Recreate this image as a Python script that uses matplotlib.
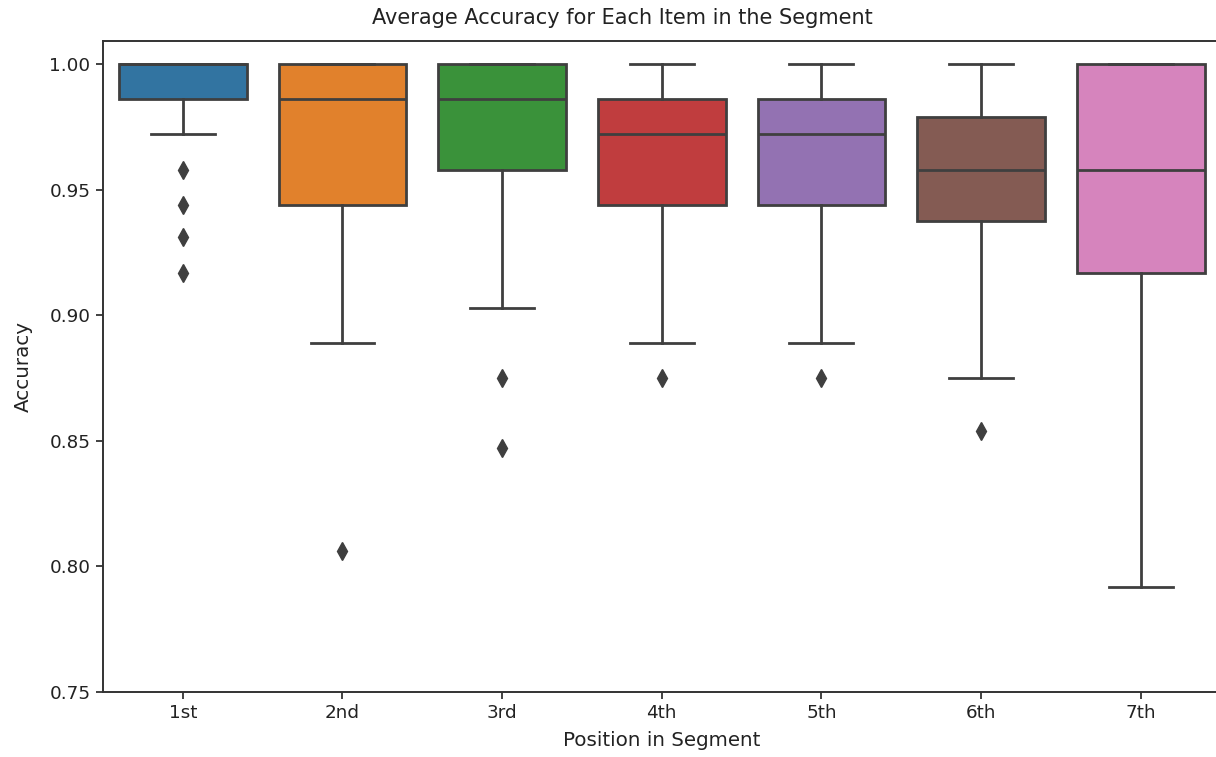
import numpy as np
import matplotlib.pyplot as plt

positions = ['1st', '2nd', '3rd', '4th', '5th', '6th', '7th']
q1 = [0.986, 0.944, 0.958, 0.944, 0.944, 0.9375, 0.917]
med = [1.000, 0.986, 0.986, 0.972, 0.972, 0.958, 0.958]
q3 = [1.000, 1.000, 1.000, 0.986, 0.986, 0.979, 1.000]
whislo = [0.972, 0.889, 0.903, 0.889, 0.889, 0.875, 0.792]
whishi = [1.000, 1.000, 1.000, 1.000, 1.000, 1.000, 1.000]
fliers = [
    [0.958, 0.944, 0.931, 0.917],
    [0.806],
    [0.875, 0.847],
    [0.875],
    [0.875],
    [0.854],
    [],
]
colors = ['#3274A1', '#E1812C', '#3A923A', '#C03D3E', '#9372B2', '#845B53', '#D684BD']
gray = '#3f3f3f'

stats = []
for i in range(len(positions)):
    stats.append({'label': positions[i], 'q1': q1[i], 'med': med[i], 'q3': q3[i],
                  'whislo': whislo[i], 'whishi': whishi[i], 'fliers': fliers[i]})

W, H = 1216, 757
fig = plt.figure(figsize=(W / 100, H / 100), dpi=100)
# the original figure was a little wider and cropped on the right
ax_left, ax_right = 103, 1220.5
ax = fig.add_axes([ax_left / W, 1 - 692 / H, (ax_right - ax_left) / W, (692 - 41) / H])

lw = 2.0
bp = ax.bxp(stats, positions=range(len(positions)), widths=0.8, patch_artist=True,
            boxprops=dict(edgecolor=gray, linewidth=lw),
            whiskerprops=dict(color=gray, linewidth=lw),
            capprops=dict(color=gray, linewidth=lw),
            medianprops=dict(color=gray, linewidth=lw),
            flierprops=dict(marker='d', markersize=9, markerfacecolor=gray,
                            markeredgecolor=gray, linestyle='none'))
for box, c in zip(bp['boxes'], colors):
    box.set_facecolor(c)

for s in ax.spines.values():
    s.set_color('#333333')
    s.set_linewidth(1.4)

ax.set_xlim(-0.5, len(positions) - 0.5)
ax.set_ylim(0.75, 1.0092)
yt = np.arange(0.75, 1.001, 0.05)
ax.set_yticks(yt)
ax.set_yticklabels([f'{v:.2f}' for v in yt])
ax.tick_params(labelsize=13.2, length=5, width=1.3, pad=4, color='#333333', labelcolor='#222222')
ax.set_xlabel('Position in Segment', fontsize=14.3, color='#222222')
ax.set_ylabel('Accuracy', fontsize=14.3, color='#222222')
ax.yaxis.set_label_coords((33 - ax_left) / (ax_right - ax_left), 0.5)
ax.xaxis.set_label_coords(0.5, -(731 - 692) / (692 - 41))
fig.suptitle('Average Accuracy for Each Item in the Segment', x=622 / W, y=1 - 18 / H,
             va='center', fontsize=15, color='#222222')

fig.savefig('out.png', dpi=100)
